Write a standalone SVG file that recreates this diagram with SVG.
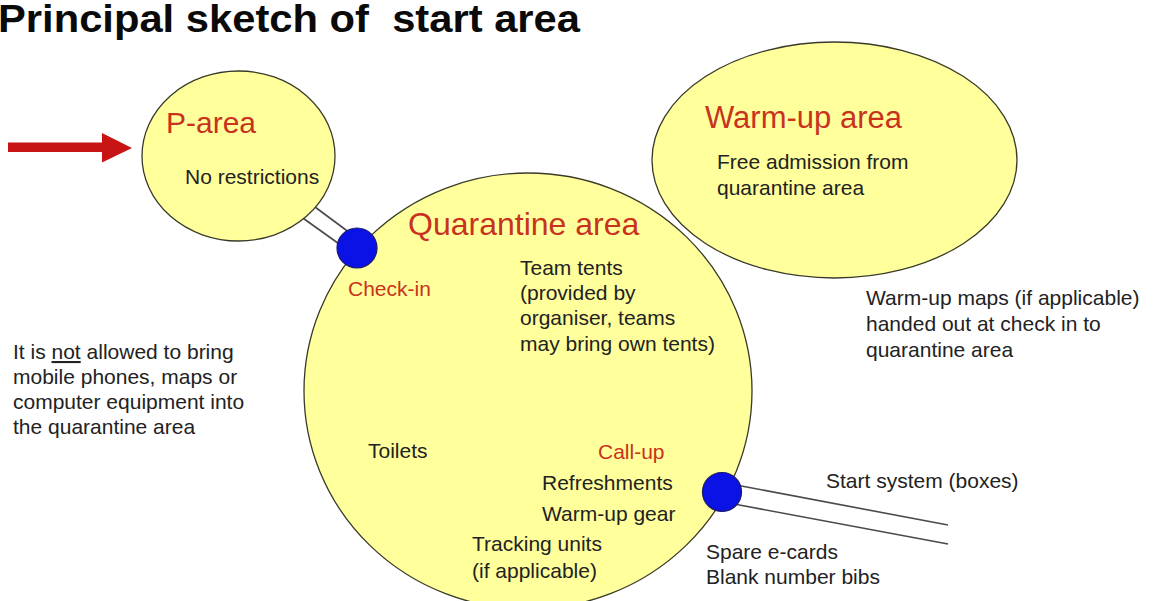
<svg xmlns="http://www.w3.org/2000/svg" width="1153" height="601" viewBox="0 0 1153 601">
  <style>
    text { font-family: "Liberation Sans", Arial, sans-serif; }
    .area { fill: #ffff9c; stroke: #3a3a2a; stroke-width: 1.3; }
    .gate { fill: #0a12e6; stroke: #1a1a6a; stroke-width: 1.2; }
    .head { fill: #c8321e; }
    .body { fill: #222222; font-size: 21px; }
    .lbl { fill: #c8321e; font-size: 21px; }
    .rail { stroke: #4a4a4a; stroke-width: 1.6; fill: none; }
  </style>

  <rect width="1153" height="601" fill="#ffffff"/>

  <!-- title (double space kept) -->
  <text x="-2" y="32" font-size="39" font-weight="bold" fill="#0a0a0a" xml:space="preserve" style="white-space: pre" textLength="582" lengthAdjust="spacingAndGlyphs">Principal sketch of  start area</text>

  <!-- connectors: entry arrow and passage rails -->
  <g id="connectors">
    <path d="M8 142.5 H102 V133 L132 148 L102 162.5 V152 H8 Z" fill="#c81414"/>
    <line class="rail" x1="300" y1="216" x2="342" y2="246"/>
    <line class="rail" x1="311" y1="204" x2="350" y2="233"/>
    <line class="rail" x1="736" y1="485" x2="948" y2="525"/>
    <line class="rail" x1="734" y1="504" x2="948" y2="544"/>
  </g>

  <g id="p-area">
    <ellipse class="area" cx="238.5" cy="156" rx="96.5" ry="85"/>
    <text class="head" x="166" y="133" font-size="30">P-area</text>
    <text class="body" x="185" y="184">No restrictions</text>
  </g>

  <g id="warmup-area">
    <ellipse class="area" cx="834.5" cy="160" rx="182.5" ry="118"/>
    <text class="head" x="705" y="128" font-size="31">Warm-up area</text>
    <text class="body" x="717" y="169">Free admission from</text>
    <text class="body" x="717" y="195">quarantine area</text>
  </g>

  <g id="quarantine-area">
    <ellipse class="area" cx="528" cy="391" rx="224" ry="218"/>
    <text class="head" x="408" y="235" font-size="32">Quarantine area</text>
    <text class="body" x="520" y="275">Team tents</text>
    <text class="body" x="520" y="300">(provided by</text>
    <text class="body" x="520" y="325">organiser, teams</text>
    <text class="body" x="520" y="351">may bring own tents)</text>
    <text class="body" x="368" y="458">Toilets</text>
    <text class="lbl" x="598" y="459">Call-up</text>
    <text class="body" x="542" y="490">Refreshments</text>
    <text class="body" x="542" y="521">Warm-up gear</text>
    <text class="body" x="472" y="551">Tracking units</text>
    <text class="body" x="472" y="578">(if applicable)</text>
  </g>

  <g id="check-in">
    <circle class="gate" cx="357" cy="248" r="20"/>
    <text class="lbl" x="348" y="296">Check-in</text>
  </g>

  <g id="start-gate">
    <circle class="gate" cx="722" cy="492" r="19.5"/>
    <text class="body" x="826" y="488">Start system (boxes)</text>
    <text class="body" x="706" y="559">Spare e-cards</text>
    <text class="body" x="706" y="584">Blank number bibs</text>
  </g>

  <g id="rule-note">
    <text class="body" x="13" y="359">It is <tspan text-decoration="underline">not</tspan> allowed to bring</text>
    <text class="body" x="13" y="384">mobile phones, maps or</text>
    <text class="body" x="13" y="409">computer equipment into</text>
    <text class="body" x="13" y="434">the quarantine area</text>
  </g>

  <g id="maps-note">
    <text class="body" x="866" y="305">Warm-up maps (if applicable)</text>
    <text class="body" x="866" y="331">handed out at check in to</text>
    <text class="body" x="866" y="357">quarantine area</text>
  </g>
</svg>
